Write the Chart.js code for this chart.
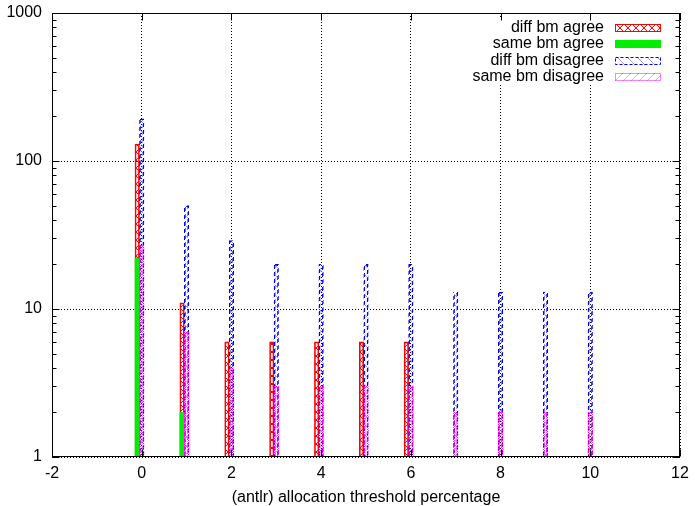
<!DOCTYPE html>
<html>
<head>
<meta charset="utf-8">
<script src="https://cdn.jsdelivr.net/npm/chart.js@4/dist/chart.umd.min.js"></script>
<style>
  html, body { margin: 0; padding: 0; background: #fff; }
  #wrap { width: 695px; height: 506px; }
</style>
</head>
<body>
<div id="wrap"><canvas id="c" width="695" height="506"></canvas></div>
<script>
// ---- data ----
const categories = [0, 1, 2, 3, 4, 5, 6, 7, 8, 9, 10];
const diffBmAgree = [130, 11, 6, 6, 6, 6, 6, null, null, null, null];
const sameBmAgree = [22, 2, null, null, null, null, null, null, null, null, null];
const diffBmDisagree = [193, 50, 29, 20, 20, 20, 20, 13, 13, 13, 13];
const sameBmDisagree = [27, 7, 4, 3, 3, 3, 3, 2, 2, 2, 2];
const seriesLabels = ['diff bm agree', 'same bm agree', 'diff bm disagree', 'same bm disagree'];
const xTickValues = [-2, 0, 2, 4, 6, 8, 10, 12];
const yTickValues = [1, 10, 100, 1000];
const xTitle = '(antlr) allocation threshold percentage';

// ---- styling helpers ----
const agreeOffset = -0.1;
const FONT = "'Liberation Sans', Arial, Helvetica, sans-serif";
Chart.defaults.font.family = FONT;
Chart.defaults.font.size = 16;
Chart.defaults.color = '#000';

function makePattern(w, h, draw) {
  const c = document.createElement('canvas');
  c.width = w; c.height = h;
  const g = c.getContext('2d');
  draw(g, w, h);
  return g.createPattern(c, 'repeat');
}
const redFill = makePattern(8, 8, (g) => {
  g.strokeStyle = '#ff0000'; g.lineWidth = 1;
  g.beginPath(); g.moveTo(0, 0); g.lineTo(8, 8); g.moveTo(8, 0); g.lineTo(0, 8); g.stroke();
});
const blueFill = makePattern(10, 10, (g) => {
  g.strokeStyle = 'rgba(110,110,255,0.7)'; g.lineWidth = 1;
  g.beginPath(); g.moveTo(0, 0); g.lineTo(10, 10); g.stroke();
});
const magentaFill = makePattern(8, 8, (g) => {
  g.strokeStyle = 'rgba(255,120,255,0.8)'; g.lineWidth = 1;
  g.beginPath(); g.moveTo(8, 0); g.lineTo(0, 8); g.stroke();
});
const blueDash = makePattern(7, 7, (g) => {
  g.fillStyle = '#0000ff';
  for (let i = 0; i < 7; i++) for (let j = 0; j < 7; j++) if ((i + j) % 7 < 4) g.fillRect(i, j, 1, 1);
});
const magentaDot = makePattern(2, 2, (g) => {
  g.fillStyle = '#ff00ff';
  g.fillRect(0, 0, 1, 1); g.fillRect(1, 1, 1, 1);
});

function pts(values, off) {
  return categories.map((c, i) => ({ x: c + off, y: values[i] }));
}

const legendStyles = [
  { fill: redFill, stroke: '#ff0000', dash: [] },
  { fill: '#00ee00', stroke: null, dash: [] },
  { fill: blueFill, stroke: '#0000ff', dash: [3, 2] },
  { fill: magentaFill, stroke: '#ff00ff', dash: [1, 1] }
];

const gnuplotFrame = {
  id: 'gnuplotFrame',
  beforeDatasetsDraw(chart) {
    // key area clears the grid like gnuplot
    const { ctx, chartArea: a } = chart;
    ctx.save();
    ctx.fillStyle = '#fff';
    ctx.fillRect(a.right - 212, a.top + 6, 200, 65);
    ctx.restore();
  },
  afterDraw(chart) {
    const { ctx, chartArea: a } = chart;
    const x = chart.scales.x, y = chart.scales.y;
    ctx.save();
    ctx.strokeStyle = '#000';
    ctx.lineWidth = 1;
    ctx.setLineDash([]);
    const L = Math.round(a.left) + 0.5, R = Math.round(a.right) - 0.5;
    const T = Math.round(a.top) + 0.5, B = Math.round(a.bottom) - 0.5;
    ctx.strokeRect(L, T, R - L, B - T);
    ctx.beginPath();
    const major = 7, minor = 4;
    yTickValues.forEach(v => {
      const p = Math.round(y.getPixelForValue(v)) + 0.5;
      ctx.moveTo(L, p); ctx.lineTo(L + major, p);
      ctx.moveTo(R, p); ctx.lineTo(R - major, p);
    });
    for (let i = 0; i < yTickValues.length - 1; i++) {
      for (let k = 2; k < 10; k++) {
        const p = Math.round(y.getPixelForValue(yTickValues[i] * k)) + 0.5;
        ctx.moveTo(L, p); ctx.lineTo(L + minor, p);
        ctx.moveTo(R, p); ctx.lineTo(R - minor, p);
      }
    }
    xTickValues.forEach(v => {
      const p = Math.round(x.getPixelForValue(v)) + 0.5;
      ctx.moveTo(p, B); ctx.lineTo(p, B - major);
      ctx.moveTo(p, T); ctx.lineTo(p, T + major);
    });
    ctx.stroke();

    // key
    const textRight = a.right - 76;
    const boxLeft = a.right - 65, boxW = 46, boxH = 8;
    ctx.font = '16px ' + FONT;
    ctx.textAlign = 'right';
    ctx.textBaseline = 'middle';
    seriesLabels.forEach((lab, i) => {
      const cy = a.top + 14.5 + i * 16.5;
      ctx.fillStyle = '#000';
      ctx.fillText(lab, textRight, cy);
      const st = legendStyles[i];
      ctx.fillStyle = st.fill;
      const by = Math.round(cy - boxH / 2);
      ctx.fillRect(boxLeft, by, boxW, boxH);
      if (st.stroke) {
        ctx.strokeStyle = st.stroke;
        ctx.setLineDash(st.dash);
        ctx.strokeRect(boxLeft + 0.5, by + 0.5, boxW - 1, boxH - 1);
        ctx.setLineDash([]);
      }
    });
    ctx.restore();
  }
};

function noPad(s) { s.paddingTop = 0; s.paddingBottom = 0; s.paddingLeft = 0; s.paddingRight = 0; }

new Chart(document.getElementById('c'), {
  type: 'bar',
  data: {
    datasets: [
      { label: seriesLabels[0], data: pts(diffBmAgree, agreeOffset), backgroundColor: redFill,
        borderColor: '#ff0000', borderWidth: 1, order: 3 },
      { label: seriesLabels[1], data: pts(sameBmAgree, agreeOffset), backgroundColor: '#00ee00',
        borderWidth: 0, order: 1 },
      { label: seriesLabels[2], data: pts(diffBmDisagree, 0), backgroundColor: blueFill,
        borderColor: blueDash, borderWidth: 1, order: 2 },
      { label: seriesLabels[3], data: pts(sameBmDisagree, 0), backgroundColor: magentaFill,
        borderColor: magentaDot, borderWidth: 1, order: 0 }
    ]
  },
  options: {
    responsive: false,
    animation: false,
    events: [],
    layout: { padding: { top: 13, right: 15, left: 0, bottom: 0 } },
    datasets: { bar: { grouped: false, categoryPercentage: 1, barPercentage: 1 } },
    plugins: { legend: { display: false }, tooltip: { enabled: false } },
    scales: {
      x: {
        type: 'linear',
        min: -2, max: 12,
        offset: false,
        afterBuildTicks: (s) => { s.ticks = xTickValues.map(v => ({ value: v })); },
        afterFit: (s) => { s.height = 49; noPad(s); },
        ticks: { autoSkip: false, maxRotation: 0, padding: 7, callback: (v) => String(v), font: { size: 16 } },
        grid: { offset: false, drawTicks: false, color: '#000', lineWidth: 1 },
        border: { display: false, dash: [1, 2] },
        title: { display: true, text: xTitle, font: { size: 16, lineHeight: 1.0 }, padding: { top: 0, bottom: 0 } }
      },
      y: {
        type: 'logarithmic',
        min: 1, max: 1000,
        afterBuildTicks: (s) => { s.ticks = yTickValues.map(v => ({ value: v, major: true })); },
        afterFit: (s) => { s.width = 52; noPad(s); },
        ticks: { autoSkip: false, padding: 10, callback: (v) => String(v), font: { size: 16 } },
        grid: { drawTicks: false, color: '#000', lineWidth: 1 },
        border: { display: false, dash: [1, 2] }
      }
    }
  },
  plugins: [gnuplotFrame]
});
</script>
</body>
</html>
